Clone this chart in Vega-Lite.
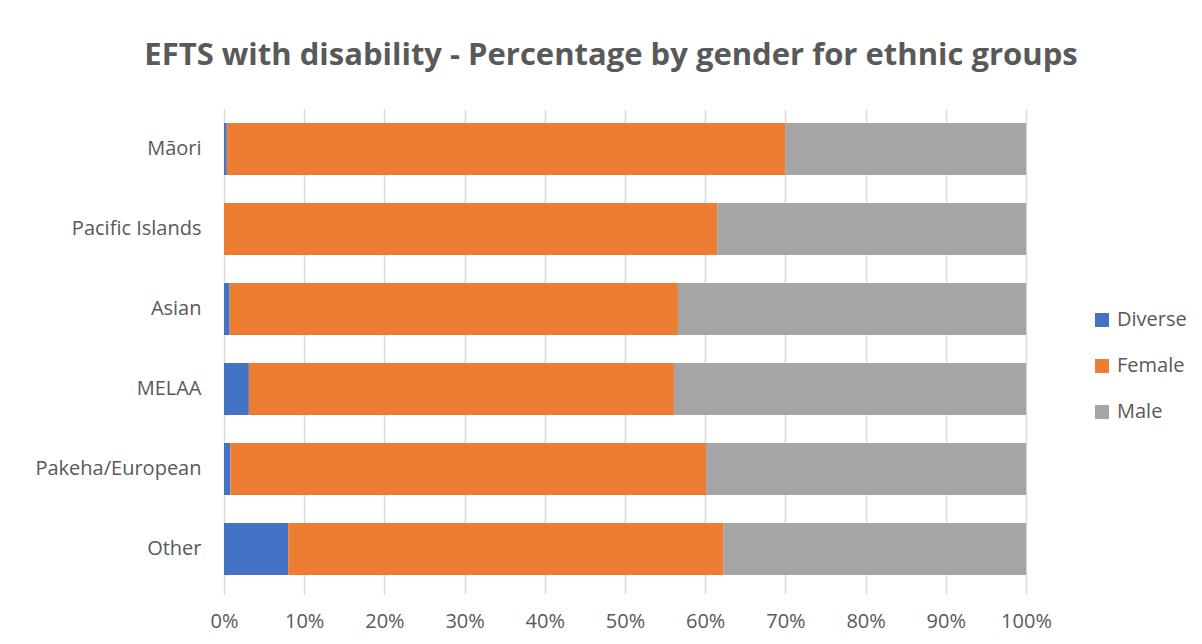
{
  "$schema": "https://vega.github.io/schema/vega-lite/v6.json",
  "autosize": "none",
  "width": 802,
  "height": 480,
  "padding": {"left": 224, "top": 109, "right": 176, "bottom": 55},
  "background": "white",
  "title": {
    "text": "EFTS with disability - Percentage by gender for ethnic groups",
    "font": "Open Sans",
    "fontSize": 31,
    "fontWeight": "bold",
    "color": "#595959",
    "anchor": "middle",
    "dx": -14,
    "offset": 37
  },
  "data": {
    "values": [
      {"ethnicity": "Māori", "gender": "Diverse", "value": 0.35},
      {"ethnicity": "Māori", "gender": "Female", "value": 69.65},
      {"ethnicity": "Māori", "gender": "Male", "value": 30.0},
      {"ethnicity": "Pacific Islands", "gender": "Diverse", "value": 0.0},
      {"ethnicity": "Pacific Islands", "gender": "Female", "value": 61.5},
      {"ethnicity": "Pacific Islands", "gender": "Male", "value": 38.5},
      {"ethnicity": "Asian", "gender": "Diverse", "value": 0.7},
      {"ethnicity": "Asian", "gender": "Female", "value": 55.9},
      {"ethnicity": "Asian", "gender": "Male", "value": 43.4},
      {"ethnicity": "MELAA", "gender": "Diverse", "value": 3.1},
      {"ethnicity": "MELAA", "gender": "Female", "value": 53.0},
      {"ethnicity": "MELAA", "gender": "Male", "value": 43.9},
      {"ethnicity": "Pakeha/European", "gender": "Diverse", "value": 0.8},
      {"ethnicity": "Pakeha/European", "gender": "Female", "value": 59.3},
      {"ethnicity": "Pakeha/European", "gender": "Male", "value": 39.9},
      {"ethnicity": "Other", "gender": "Diverse", "value": 8.0},
      {"ethnicity": "Other", "gender": "Female", "value": 54.3},
      {"ethnicity": "Other", "gender": "Male", "value": 37.7}
    ]
  },
  "mark": {"type": "bar"},
  "encoding": {
    "y": {
      "field": "ethnicity",
      "type": "nominal",
      "sort": ["Māori", "Pacific Islands", "Asian", "MELAA", "Pakeha/European", "Other"],
      "scale": {"paddingInner": 0.35, "paddingOuter": 0.175},
      "axis": {
        "title": null,
        "domain": false,
        "ticks": false,
        "labelPadding": 23,
        "labelFont": "Open Sans",
        "labelFontSize": 20,
        "labelColor": "#595959"
      }
    },
    "x": {
      "field": "value",
      "type": "quantitative",
      "stack": "normalize",
      "scale": {"domain": [0, 1]},
      "axis": {
        "title": null,
        "format": ".0%",
        "values": [0, 0.1, 0.2, 0.3, 0.4, 0.5, 0.6, 0.7, 0.8, 0.9, 1],
        "labelOverlap": false,
        "labelFlush": false,
        "domain": false,
        "ticks": true,
        "tickSize": 5,
        "tickColor": "#D9D9D9",
        "tickWidth": 1.5,
        "grid": true,
        "gridColor": "#D9D9D9",
        "gridWidth": 1.5,
        "labelPadding": 17,
        "labelFont": "Open Sans",
        "labelFontSize": 20,
        "labelColor": "#595959"
      }
    },
    "color": {
      "field": "gender",
      "type": "nominal",
      "scale": {"domain": ["Diverse", "Female", "Male"], "range": ["#4472C4", "#ED7D31", "#A5A5A5"]},
      "legend": {
        "title": null,
        "orient": "none",
        "legendX": 868,
        "legendY": 201,
        "symbolType": "square",
        "symbolSize": 196,
        "symbolStrokeWidth": 0,
        "labelFont": "Open Sans",
        "labelFontSize": 20,
        "labelColor": "#595959",
        "labelOffset": 5,
        "rowPadding": 26
      }
    },
    "order": {"field": "gender", "sort": "ascending"}
  },
  "config": {"view": {"stroke": null}}
}
